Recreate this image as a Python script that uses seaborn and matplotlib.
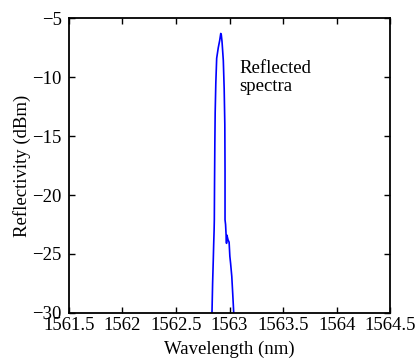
import pandas as pd
import seaborn as sns
import matplotlib.pyplot as plt

# reflected spectrum
wavelength = [1562.835, 1562.842, 1562.848, 1562.852, 1562.856, 1562.858, 1562.860,
              1562.863, 1562.866, 1562.872, 1562.880, 1562.895, 1562.908, 1562.918,
              1562.923, 1562.930, 1562.942, 1562.950, 1562.956, 1562.958, 1562.958,
              1562.963, 1562.968, 1562.972, 1562.975, 1562.978, 1562.986, 1562.996,
              1563.003, 1563.010, 1563.021, 1563.030, 1563.042]
reflectivity = [-30.5, -27.5, -25.6, -24.2, -23.0, -22.1, -19.0,
                -15.5, -13.0, -10.5, -8.4, -7.5, -6.9, -6.3,
                -6.4, -7.0, -8.6, -11.0, -14.0, -18.0, -22.1,
                -22.5, -23.4, -24.1, -23.4, -23.5, -23.8, -24.0,
                -25.2, -25.8, -26.9, -28.4, -30.5]

df = pd.DataFrame({"Wavelength": wavelength, "Reflectivity": reflectivity})

sns.set_style("ticks", {"axes.edgecolor": "black", "text.color": "black",
                        "axes.labelcolor": "black", "xtick.color": "black",
                        "ytick.color": "black"})
plt.rcParams["font.family"] = ["Liberation Serif", "DejaVu Serif"]

fig = plt.figure(figsize=(4.2, 3.63), dpi=100)
ax = fig.add_axes([0.164, 0.138, 0.765, 0.812])

sns.lineplot(data=df, x="Wavelength", y="Reflectivity", color="#0000ff",
             linewidth=1.2, estimator=None, sort=False, ax=ax)

ax.set_xlim(1561.5, 1564.5)
ax.set_ylim(-30, -5)
ax.set_xticks([1561.5, 1562, 1562.5, 1563, 1563.5, 1564, 1564.5])
ax.set_xticklabels(["1561.5", "1562", "1562.5", "1563", "1563.5", "1564", "1564.5"])
ax.set_yticks([-30, -25, -20, -15, -10, -5])
ax.set_yticklabels(["\u221230", "\u221225", "\u221220", "\u221215", "\u221210", "\u22125"])

ax.tick_params(direction="in", length=4, width=1, top=True, right=True,
               labelsize=13.5, pad=3)
ax.tick_params(axis="y", pad=5)
for s in ax.spines.values():
    s.set_linewidth(1.3)

ax.set_xlabel("Wavelength (nm)", fontsize=13.5, labelpad=5)
ax.set_ylabel("Reflectivity (dBm)", fontsize=13.5, labelpad=1)

ax.text(1563.09, -8.55, "Reflected\nspectra", fontsize=13.5, va="top",
        ha="left", linespacing=1.05)

plt.savefig("out.png", dpi=100)
